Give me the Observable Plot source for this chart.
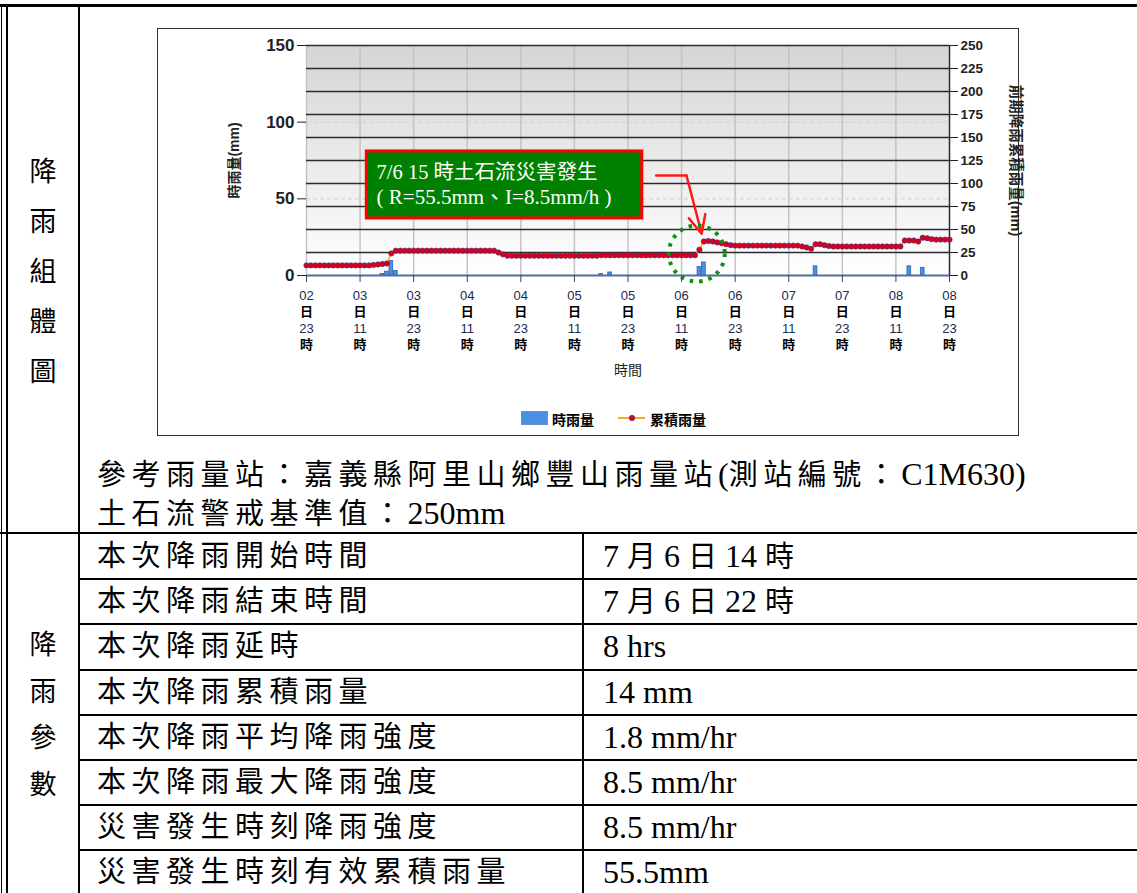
<!DOCTYPE html>
<html>
<head>
<meta charset="utf-8">
<script src="https://cdn.jsdelivr.net/npm/d3@7"></script>
<script src="https://cdn.jsdelivr.net/npm/@observablehq/plot@0.6"></script>
<style>
  html, body { margin: 0; padding: 0; background: #fff; }
  body { width: 1137px; height: 893px; overflow: hidden; position: relative;
         font-family: "Liberation Serif", "Noto Sans CJK TC", serif; color: #000; }
  .ln { position: absolute; background: #000; }
  .vlabel { position: absolute; left: 8px; width: 70px; text-align: center; font-size: 27px; }
  .vlabel div { height: 50px; line-height: 50px; }
  .cell { position: absolute; font-size: 29px; white-space: nowrap; letter-spacing: 5.5px; }
  .cell.val { letter-spacing: 0; }
  .lat { font-size: 32px; letter-spacing: 0; }
  #chartbox { position: absolute; left: 157px; top: 28px; width: 860px; height: 406px;
              border: 1px solid #333; background: #fff; }
  #plot { position: absolute; left: 0; top: 0; }
  .legend { position: absolute; top: 382px; left: 0; width: 860px; height: 16px;
            font-family: "Liberation Sans", "Noto Sans CJK TC", sans-serif; font-weight: bold; font-size: 14px; }
  .legend .sw { position: absolute; }
  .legend .tx { position: absolute; top: -2px; }
</style>
</head>
<body>
<div id="page"></div>
<script>
// ---------------- data ----------------
// hourly index 0 = 7/2 23時 ... 144 = 7/8 23時
const tickDay  = ["02","03","03","04","04","05","05","06","06","07","07","08","08"];
const tickHour = ["23","11","23","11","23","11","23","11","23","11","23","11","23"];

// 前期降雨累積雨量 (mm), one value per hour
const cumRain = [
  11,11,11,11,11,11,11,11,11,11,11,11,11,11,11,
  11.5,12,12.5,13,
  24,
  27,27,27,27,27,27,27,27,27,27,27,27,27,27,27,27,27,27,27,27,27,27,27,
  25,23,
  21.5,21.5,21.5,21.5,21.5,21.5,21.5,21.5,21.5,21.5,21.5,21.5,21.5,21.5,21.5,21.5,21.5,21.5,21.5,21.5,21.5,
  22,22,22,22,22,22,22,22,22,22,22,22,22,22,22,22,22,22,22,22,22,22,
  28,37,37.5,37,36,35,34,33,
  32.5,32.5,32.5,32.5,32.5,32.5,32.5,32.5,32.5,32.5,32.5,32.5,32.5,32.5,32.5,
  31.5,30.5,29,34,34,33,32,
  31.5,31.5,31.5,31.5,31.5,31.5,31.5,31.5,31.5,31.5,31.5,31.5,31.5,31.5,31.5,31.5,
  38,38,38,37,41,40.5,39.5,39,39,39,39
];

// 時雨量 (mm): hour index and amount of the non-zero hours
const rainHour = [17, 18, 19, 20, 66, 68, 88, 89, 114, 135, 138];
const rainMm   = [1, 2.5, 9.5, 3, 1, 2, 5.5, 8.5, 6, 6, 5];

const leftTicks  = [0, 50, 100, 150];
const rightTicks = [0, 25, 50, 75, 100, 125, 150, 175, 200, 225, 250];

const calloutLine1 = "7/6 15 時土石流災害發生";
const calloutLine2 = "( R=55.5mm、I=8.5mm/h )";

const stationText = "參考雨量站：嘉義縣阿里山鄉豐山雨量站(測站編號：C1M630)";
const thresholdText = "土石流警戒基準值：250mm";

const paramNames = ["本次降雨開始時間","本次降雨結束時間","本次降雨延時","本次降雨累積雨量",
                    "本次降雨平均降雨強度","本次降雨最大降雨強度","災害發生時刻降雨強度","災害發生時刻有效累積雨量"];
const paramValues = ["7 月 6 日 14 時","7 月 6 日 22 時","8 hrs","14 mm",
                     "1.8 mm/hr","8.5 mm/hr","8.5 mm/hr","55.5mm"];

const sideLabel1 = ["降","雨","組","體","圖"];
const sideLabel2 = ["降","雨","參","數"];

// ---------------- table frame ----------------
const page = document.getElementById("page");
function el(tag, cls, style, html) {
  const e = document.createElement(tag);
  if (cls) e.className = cls;
  Object.assign(e.style, style || {});
  if (html != null) e.innerHTML = html;
  page.appendChild(e);
  return e;
}
function line(l, t, w, h) { el("div", "ln", {left: l+"px", top: t+"px", width: w+"px", height: h+"px"}); }
function mixed(s) { return s.replace(/([\x20-\x7E]+)/g, '<span class="lat">$1</span>'); }

line(0, 4, 1137, 3);        // top border
line(1, 4, 1, 889);         // outer double border
line(6, 4, 2, 889);
line(78, 4, 2, 889);        // first column
line(0, 532, 1137, 2);      // section separator
const rowH = 45.17;
paramNames.forEach((n, i) => {
  if (i > 0) line(80, Math.round(533 + i*rowH), 1057, 2);
});
line(582, 534, 2, 359);     // value column

// side labels
const s1 = el("div", "vlabel", {top: "147px"});
sideLabel1.forEach(c => { const d = document.createElement("div"); d.textContent = c; s1.appendChild(d); });
const s2 = el("div", "vlabel", {top: "622px"});
sideLabel2.forEach(c => { const d = document.createElement("div"); d.textContent = c; d.style.height = "46.5px"; d.style.lineHeight = "46.5px"; s2.appendChild(d); });

// top section texts
el("div", "cell", {left: "97px", top: "455px", lineHeight: "38px"}, mixed(stationText));
el("div", "cell", {left: "97px", top: "494px", lineHeight: "38px"}, mixed(thresholdText));

// parameter rows
paramNames.forEach((n, i) => {
  const t = 533 + i*rowH + 2;
  el("div", "cell", {left: "97px", top: t+"px", lineHeight: (rowH-2)+"px"}, n);
  el("div", "cell val", {left: "603px", top: t+"px", lineHeight: (rowH-2)+"px"}, mixed(paramValues[i]));
});

// ---------------- chart ----------------
const box = el("div", null, {}, null);
box.id = "chartbox";

const cum = cumRain.map((v, i) => ({i, v}));
const bars = rainHour.map((h, k) => ({i: h, v: rainMm[k]}));
const ticks = tickDay.map((d, k) => ({i: k * 12, day: d, hour: tickHour[k]}));
const R = 150 / 250; // right axis (0–250) mapped on left axis (0–150)

const sansFont = "'Liberation Sans', 'Noto Sans CJK TC', sans-serif";
const serifFont = "'Liberation Serif', 'Noto Sans CJK TC', serif";

const gradientDefs = () => {
  const g = d3.create("svg:g");
  const lg = g.append("defs").append("linearGradient")
    .attr("id", "bgGrad").attr("x1", 0).attr("y1", 0).attr("x2", 0).attr("y2", 1);
  lg.append("stop").attr("offset", "0%").attr("stop-color", "#d5d5d5");
  lg.append("stop").attr("offset", "100%").attr("stop-color", "#ffffff");
  return g.node();
};

const chart = Plot.plot({
  width: 860,
  height: 372,
  marginLeft: 148,
  marginRight: 69,
  marginTop: 16,
  marginBottom: 126,
  x: {domain: [0, 144], axis: null},
  y: {domain: [0, 150], axis: null},
  style: {fontFamily: sansFont, background: "transparent", overflow: "visible"},
  marks: [
    gradientDefs,
    Plot.frame({fill: "url(#bgGrad)", stroke: null}),
    Plot.ruleX(ticks, {x: "i", stroke: "#c4c4c4", strokeWidth: 1.5}),
    Plot.ruleY([50, 100], {stroke: "#cfcfcf", strokeDasharray: "4,3"}),
    Plot.ruleY(rightTicks.filter(v => v > 0), {y: v => v * R, stroke: "#2b2b2b", strokeWidth: 1.4}),
    Plot.ruleX([144], {stroke: "#2b2b2b", strokeWidth: 1.4}),
    Plot.rectY(bars, {x1: d => d.i - 0.42, x2: d => d.i + 0.42, y: "v",
                      fill: "#4a8fe2", stroke: "#2f68b0", strokeWidth: 0.8}),
    Plot.ruleY([0], {stroke: "#4f6f9f", strokeWidth: 2.2}),
    Plot.line(cum, {x: "i", y: d => d.v * R, stroke: "#ffa726", strokeWidth: 1.6}),
    Plot.dot(cum, {x: "i", y: d => d.v * R, r: 2.7, fill: "#dd0014",
                   stroke: "#3b2d8c", strokeWidth: 1, strokeOpacity: 0.55}),
    // axes
    Plot.axisY(leftTicks, {anchor: "left", tickSize: 9, tickPadding: 3, label: null,
                           fontSize: 17, fontWeight: "bold", color: "#222", stroke: "#222"}),
    Plot.axisY(rightTicks.map(v => v * R), {anchor: "right", tickSize: 8, tickPadding: 3, label: null,
                           tickFormat: d => Math.round(d / R), fontSize: 13.5, fontWeight: "bold",
                           color: "#222", stroke: "#222"}),
    Plot.axisX(ticks.map(t => t.i), {anchor: "bottom", tickSize: 7, tickFormat: () => "", label: null, stroke: "#444"}),
    Plot.text(ticks, {x: "i", text: "day", frameAnchor: "bottom", dy: 24, fontSize: 13, fill: "#1b2b50"}),
    Plot.text(ticks, {x: "i", text: () => "日", frameAnchor: "bottom", dy: 40, fontSize: 13, fontWeight: "bold", fill: "#000"}),
    Plot.text(ticks, {x: "i", text: "hour", frameAnchor: "bottom", dy: 57, fontSize: 13, fill: "#1b2b50"}),
    Plot.text(ticks, {x: "i", text: () => "時", frameAnchor: "bottom", dy: 73, fontSize: 13, fontWeight: "bold", fill: "#000"}),
    Plot.text(["時間"], {frameAnchor: "bottom", dy: 99, fontSize: 14, fill: "#222"}),
    Plot.text(["時雨量(mm)"], {frameAnchor: "left", dx: -72, rotate: -90, textAnchor: "middle",
                               fontSize: 14, fontWeight: "bold", fill: "#222"}),
    Plot.text(["前期降雨累積雨量(mm)"], {frameAnchor: "right", dx: 66, rotate: 90, textAnchor: "middle",
                               fontSize: 14.5, fontWeight: "bold", fill: "#222"}),
    // callout
    Plot.rect([calloutLine1], {x1: 13.5, x2: 75.2, y1: 37.2, y2: 80.9, fill: "#008000", stroke: "#ff0000", strokeWidth: 3}),
    Plot.text([calloutLine1], {x: 15.7, y: 67.4, textAnchor: "start", fill: "#fff", fontSize: 20.5,
                               fontFamily: serifFont, letterSpacing: "1.5px"}),
    Plot.text([calloutLine2], {x: 15.7, y: 51.1, textAnchor: "start", fill: "#fff", fontSize: 21,
                               fontFamily: serifFont}),
    Plot.line([[78.3, 65.2], [85.1, 65.2]], {stroke: "#ff1a1a", strokeWidth: 2.5}),
    Plot.arrow([calloutLine1], {x1: 85.1, y1: 65.2, x2: 88.5, y2: 27.2, stroke: "#ff1a1a",
                                strokeWidth: 2.5, headLength: 17, headAngle: 50, insetEnd: 0}),
    Plot.dot([calloutLine1], {x: 87.4, y: 14.3, r: 28, fill: "none", stroke: "#0e900e",
                              strokeWidth: 4, strokeDasharray: "3.5,6"})
  ]
});
chart.id = "plot";
box.appendChild(chart);

// legend (below the SVG, inside the chart box)
const lg = document.createElement("div");
lg.className = "legend";
lg.innerHTML =
  '<div class="sw" style="left:363px;top:0;width:25px;height:12px;background:#4a8fe2;border:1px solid #6f8fbf"></div>' +
  '<div class="tx" style="left:394px">時雨量</div>' +
  '<div class="sw" style="left:460px;top:6px;width:27px;height:2px;background:#ffa726"></div>' +
  '<div class="sw" style="left:471px;top:4px;width:6px;height:6px;border-radius:3px;background:#b0103a"></div>' +
  '<div class="tx" style="left:492px">累積雨量</div>';
box.appendChild(lg);
</script>
</body>
</html>
